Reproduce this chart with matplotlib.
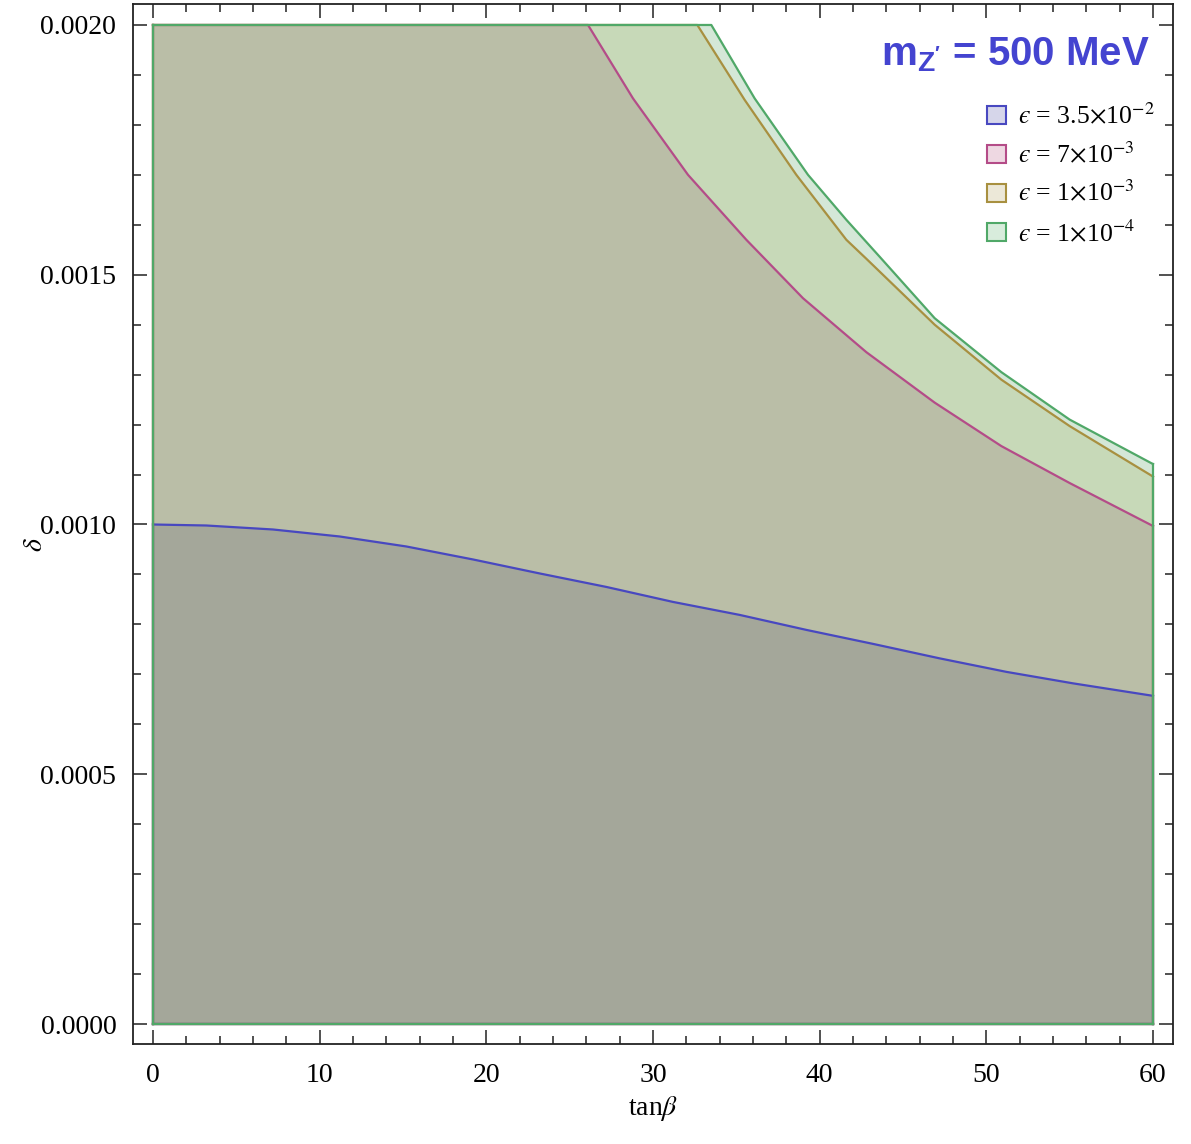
import matplotlib
matplotlib.use("Agg")
import matplotlib.pyplot as plt
from matplotlib.patches import Patch
from matplotlib.ticker import MultipleLocator, FormatStrFormatter

# ---- data ----
blue_x = [0, 3.2, 7.2, 11.2, 15.2, 19.2, 23.2, 27.2, 31.2, 35.2, 39.2, 43.2, 47.2, 51.2, 55.2, 60]
blue_y = [0.001, 0.000998, 0.000990, 0.000976, 0.000956, 0.000930, 0.000902, 0.000875,
          0.000845, 0.000819, 0.000789, 0.000761, 0.000732, 0.000705, 0.000682, 0.000657]

red_x = [0, 26.1, 28.8, 32.1, 35.6, 39.0, 42.8, 46.9, 50.9, 55.0, 60]
red_y = [0.002, 0.002, 0.001853, 0.0017, 0.00157, 0.001453, 0.001345, 0.001244, 0.001157, 0.001083, 0.000997]

olive_x = [0, 32.66, 35.5, 38.6, 41.6, 42.8, 46.9, 50.9, 55.0, 60]
olive_y = [0.002, 0.002, 0.00185, 0.0017, 0.00157, 0.001532, 0.0014, 0.00129, 0.001197, 0.001096]

green_x = [0, 33.5, 36.1, 39.3, 41.6, 43.6, 46.9, 50.9, 55.0, 60]
green_y = [0.002, 0.002, 0.001853, 0.0017, 0.00161, 0.001536, 0.001413, 0.001305, 0.00121, 0.001121]

labels = ["$\u03f5$ = 3.5$\\times$10$^{-2}$", "$\u03f5$ = 7$\\times$10$^{-3}$",
          "$\u03f5$ = 1$\\times$10$^{-3}$", "$\u03f5$ = 1$\\times$10$^{-4}$"]
xticks = [0, 10, 20, 30, 40, 50, 60]
yticks = [0.0, 0.0005, 0.0010, 0.0015, 0.0020]

# ---- styles ----
fill_cols = ["#636374", "#946E75", "#A1B05C", "#57A363"]
line_cols = ["#4848C0", "#B44C88", "#A89040", "#50A868"]
leg_face = ["#D6D6EA", "#EED8E2", "#ECE8D8", "#D8ECDC"]
alpha = 0.25

plt.rcParams["font.family"] = ["Liberation Serif", "DejaVu Serif"]
plt.rcParams["mathtext.fontset"] = "custom"
plt.rcParams["mathtext.rm"] = "Liberation Sans:bold"
plt.rcParams["mathtext.bf"] = "Liberation Sans:bold"
plt.rcParams["mathtext.it"] = "Liberation Sans:bold:italic"

fig = plt.figure(figsize=(11.91, 11.44), dpi=100)
ax = fig.add_axes([133/1191, 1-1044/1144, (1173-133)/1191, (1044-4)/1144])

series = [(blue_x, blue_y), (red_x, red_y), (olive_x, olive_y), (green_x, green_y)]
# fills: green at the bottom, blue on top
for (xs, ys), fc in reversed(list(zip(series, fill_cols))):
    ax.fill_between(xs, 0, ys, facecolor=fc, alpha=alpha, linewidth=0)
for (xs, ys), lc in zip(series, line_cols):
    ax.plot(xs, ys, color=lc, lw=1.6, solid_joinstyle="round")
    ax.plot([xs[-1], xs[-1]], [0, ys[-1]], color=lc, lw=1.6)
    ax.plot([xs[0], xs[0]], [0, ys[0]], color=lc, lw=1.6)
    ax.plot([xs[0], xs[-1]], [0, 0], color=lc, lw=1.6)

ax.set_xlim(-1.2, 61.2)
ax.set_ylim(-0.00004, 0.002042)
ax.xaxis.set_minor_locator(MultipleLocator(2))
ax.yaxis.set_minor_locator(MultipleLocator(0.0001))
ax.set_xticks(xticks)
ax.set_yticks(yticks)
ax.yaxis.set_major_formatter(FormatStrFormatter("%.4f"))
ax.tick_params(which="both", direction="in", top=True, right=True, width=1.1, color="#222222")
ax.tick_params(which="major", length=10, labelsize=20)
ax.tick_params(which="minor", length=6)
ax.tick_params(axis="y", pad=12)
ax.tick_params(axis="x", pad=14)
for s in ax.spines.values():
    s.set_linewidth(1.3)
    s.set_color("#222222")

ax.set_xlabel(r"tan$\beta$", fontsize=20, labelpad=4, math_fontfamily="stix")
ax.set_ylabel(r"$\delta$", fontsize=20, math_fontfamily="stix", va="center")
ax.yaxis.set_label_coords((35-133)/1040, (1044-545)/1040)

fig.text(1150/1191, 1-65/1144, r"m$_{\mathrm{Z'}}$ = 500 MeV", ha="right", va="baseline",
         fontsize=29, color="#4444D0", fontweight="bold", family="Liberation Sans")

handles = [Patch(facecolor=f, edgecolor=e, linewidth=1.5) for f, e in zip(leg_face, line_cols)]
leg = fig.legend(handles, labels, loc="upper left", bbox_to_anchor=(987/1191, 1-103/1144),
                 frameon=False, fontsize=18.5, handlelength=0.72, handleheight=0.72,
                 handletextpad=0.5, labelspacing=0.5, borderpad=0, borderaxespad=0)
for t in leg.get_texts():
    t.set_math_fontfamily("stix")

fig.savefig("out.png", dpi=100)
